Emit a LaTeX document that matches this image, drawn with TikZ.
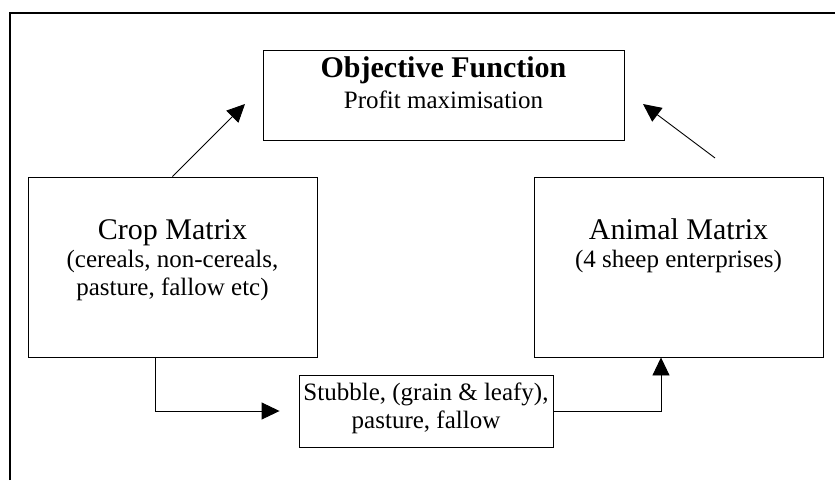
\documentclass[tikz,border=0pt]{standalone}
\usepackage{fontspec}
\setmainfont{Liberation Serif}
\usetikzlibrary{arrows.meta}
\tikzset{
  box/.style={draw, line width=0.9pt, inner sep=0pt},
  txt/.style={anchor=base, inner sep=0pt, font=\fontsize{25}{30}\selectfont},
  bigtxt/.style={anchor=base, inner sep=0pt, font=\fontsize{30}{36}\selectfont},
  conn/.style={draw, line width=0.9pt, -{Triangle[length=18pt,width=17pt]}}
}
\begin{document}
\begin{tikzpicture}[x=1pt,y=-1pt]
\useasboundingbox (0,0) rectangle (835,480);
\draw[line width=1.5pt] (10,480) -- (10,13) -- (835,13);
% boxes
\node[box, minimum width=361pt, minimum height=90pt] (obj) at (443.5,95) {};
\node[box, minimum width=289pt, minimum height=180pt] (crop) at (172.5,267) {};
\node[box, minimum width=289pt, minimum height=180pt] (animal) at (678.5,267) {};
\node[box, minimum width=254pt, minimum height=72pt] (stub) at (426,411) {};
% texts
\node[bigtxt, font=\fontsize{30}{36}\selectfont\bfseries] (objt) at (443.5,77.5) {Objective Function};
\node[txt] (objs) at (443.5,108.5) {Profit maximisation};
\node[bigtxt] (cropt) at (172.5,239) {Crop Matrix};
\node[txt] (crops1) at (172.5,267) {(cereals, non-cereals,};
\node[txt] (crops2) at (172.5,295) {pasture, fallow etc)};
\node[bigtxt] (animt) at (678.5,239) {Animal Matrix};
\node[txt] (anims) at (678.5,267) {(4 sheep enterprises)};
\node[txt] (stub1) at (426,400) {Stubble, (grain \& leafy),};
\node[txt] (stub2) at (426,428) {pasture, fallow};
% connectors
\coordinate (t1) at (245,104);
\coordinate (s2) at (715,158);
\coordinate (t2) at (643,104);
\draw[conn] (crop.north) -- (t1);
\draw[conn] (s2) -- (t2);
\draw[conn] ([xshift=-17.5pt]crop.south) |- ([xshift=-19pt]stub.west);
\draw[conn] (stub.east) -| ([xshift=-17.5pt]animal.south);
\end{tikzpicture}
\end{document}
